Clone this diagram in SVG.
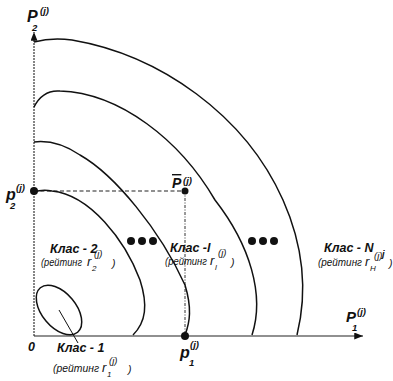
<svg xmlns="http://www.w3.org/2000/svg" width="393" height="381" viewBox="0 0 393 381">
<defs>
<style>
.bg{fill:#ffffff}
.curve{fill:none;stroke:#111;stroke-width:1.5}
.lead{fill:none;stroke:#111;stroke-width:1}
.axis{fill:none;stroke:#222;stroke-width:1.1}
.guide{fill:none;stroke:#222;stroke-width:1.1;stroke-dasharray:4 2.5}
.guidev{fill:none;stroke:#333;stroke-width:1;stroke-dasharray:3 1.5 1 1.5}
.pt{fill:#111}
.lbl{font-family:"Liberation Sans",Arial,sans-serif;font-style:italic;font-weight:bold;fill:#111}
.n{font-weight:normal}
.cls{font-size:12.5px}
.rt{font-size:10.5px}
.rr{font-size:13px}
.big{font-size:16px}
.sm{font-size:9.5px}
.sub{font-size:8px}
</style>
<marker id="arr" viewBox="0 0 10 8" refX="10" refY="4" markerWidth="9" markerHeight="7" markerUnits="userSpaceOnUse" orient="auto">
<path d="M0,0 L10,4 L0,8 Z" fill="#111"/>
</marker>
</defs>
<rect class="bg" x="0" y="0" width="393" height="381"/>

<g id="axes">
<line class="axis" x1="34" y1="336" x2="34" y2="32" stroke-dasharray="2 1" marker-end="url(#arr)"/>
<line class="axis" x1="34" y1="336" x2="363" y2="336" marker-end="url(#arr)"/>
</g>

<g id="connectors">
<line class="guide" x1="34" y1="191" x2="185" y2="191"/>
<line class="guidev" x1="185" y1="191" x2="185" y2="336"/>
<line class="lead" x1="59" y1="310" x2="78" y2="343"/>
</g>

<g id="class-N">
<path class="curve" d="M34,42 C45,39 58,38 72,40 C160,55 245,115 283,200 C303,245 308,290 297,335"/>
<text class="lbl cls" x="324" y="252">Клас - N</text>
<text class="lbl sm" x="382" y="257">j</text>
<text class="lbl n rt" x="318" y="266" textLength="44" lengthAdjust="spacingAndGlyphs">(рейтинг</text>
<text class="lbl n rr" x="365" y="266">r</text>
<text class="lbl n sub" x="370" y="271" font-size="7">Н</text>
<text class="lbl n sm" x="374" y="259">(j)</text>
<text class="lbl n rt" x="389" y="267">)</text>
</g>

<g id="class-l">
<path class="curve" d="M34,107 C40,95 48,90 60,91 C120,93 180,140 215,200 C250,245 265,295 252,335"/>
<text class="lbl cls" x="170" y="252">Клас -l</text>
<text class="lbl n rt" x="165" y="265" textLength="42" lengthAdjust="spacingAndGlyphs">(рейтинг</text>
<text class="lbl n rr" x="210" y="265">r</text>
<text class="lbl n sub" x="215" y="270">l</text>
<text class="lbl n sm" x="218" y="256">(j)</text>
<text class="lbl n rt" x="231" y="266">)</text>
</g>

<g id="class-l-boundary">
<path class="curve" d="M34,142 C50,140 65,145 80,155 C115,175 160,230 185,285 C192,308 190,322 185,335"/>
</g>

<g id="class-2">
<path class="curve" d="M34,192 C40,190 46,190 52,191 C90,195 125,240 140,280 C148,305 146,322 133,335"/>
<text class="lbl cls" x="50" y="253">Клас - 2</text>
<text class="lbl n rt" x="41" y="266" textLength="41" lengthAdjust="spacingAndGlyphs">(рейтинг</text>
<text class="lbl n rr" x="87" y="266">r</text>
<text class="lbl n sub" x="92" y="271">2</text>
<text class="lbl n sm" x="94" y="257">(j)</text>
<text class="lbl n rt" x="112" y="267">)</text>
</g>

<g id="class-1">
<ellipse class="curve" cx="59" cy="310" rx="29" ry="17" transform="rotate(50 59 310)"/>
<text class="lbl cls" x="57" y="352">Клас - 1</text>
<text class="lbl n rt" x="53" y="372" textLength="46" lengthAdjust="spacingAndGlyphs">(рейтинг</text>
<text class="lbl n rr" x="102" y="372">r</text>
<text class="lbl n sub" x="107" y="377">1</text>
<text class="lbl n sm" x="109" y="364">(j)</text>
<text class="lbl n rt" x="128" y="373">)</text>
</g>

<g id="ellipsis-1">
<circle class="pt" cx="131" cy="241" r="4"/>
<circle class="pt" cx="142" cy="241" r="4"/>
<circle class="pt" cx="153" cy="241" r="4"/>
</g>
<g id="ellipsis-2">
<circle class="pt" cx="252" cy="241" r="4"/>
<circle class="pt" cx="263" cy="241" r="4"/>
<circle class="pt" cx="274" cy="241" r="4"/>
</g>

<g id="point-p2">
<circle class="pt" cx="34" cy="191" r="4"/>
<text class="lbl big" x="6" y="200">p</text>
<text class="lbl sm" x="16" y="191">(j)</text>
<text class="lbl sm" x="10" y="209">2</text>
</g>

<g id="point-P">
<circle class="pt" cx="185" cy="191" r="3.5"/>
<text class="lbl" x="172" y="188" font-size="14" text-decoration="overline">P</text>
<text class="lbl sm" x="183" y="184" font-size="9">(j)</text>
</g>

<g id="point-p1">
<circle class="pt" cx="185" cy="336" r="4"/>
<text class="lbl big" x="180" y="358">p</text>
<text class="lbl sm" x="190" y="348">(j)</text>
<text class="lbl sm" x="189" y="366">1</text>
</g>

<g id="origin">
<text class="lbl cls" x="28" y="351">0</text>
</g>

<g id="axis-P2">
<text class="lbl big" x="27" y="22">P</text>
<text class="lbl sm" x="40" y="14">(j)</text>
<text class="lbl sm" x="32" y="31">2</text>
</g>

<g id="axis-P1">
<text class="lbl" x="346" y="322" font-size="15">P</text>
<text class="lbl sm" x="357" y="315">(j)</text>
<text class="lbl sm" x="352" y="331">1</text>
</g>
</svg>
